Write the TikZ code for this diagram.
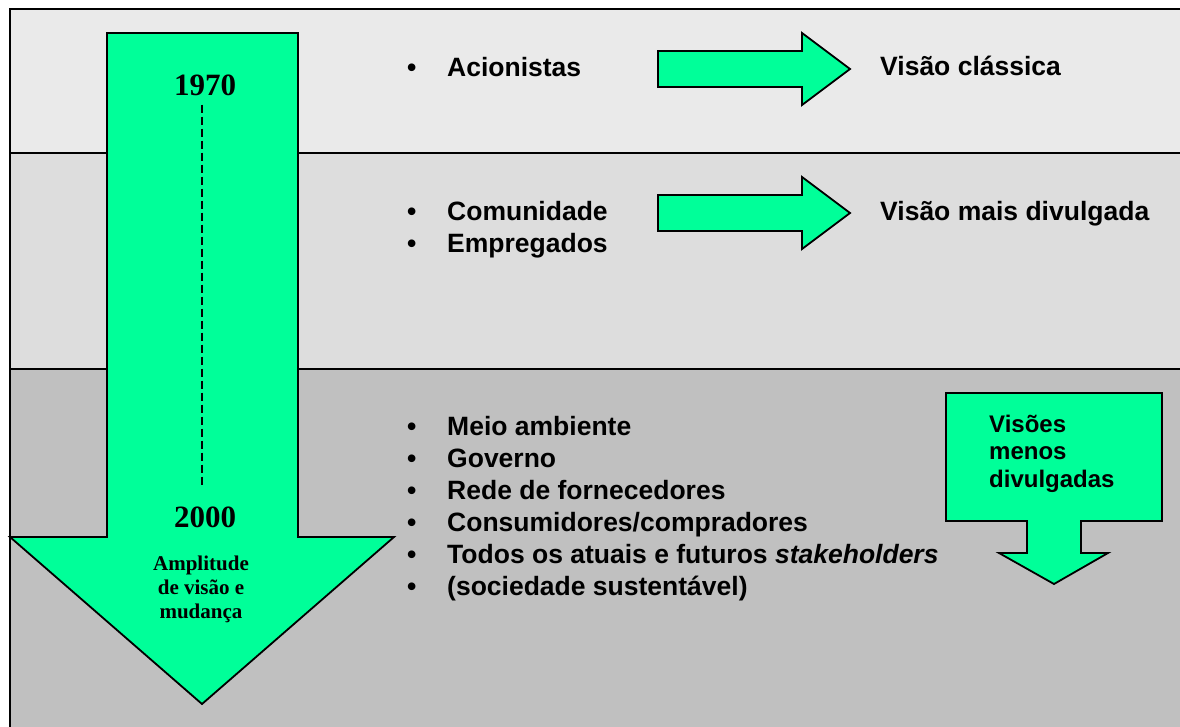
\documentclass[tikz,border=0pt]{standalone}
\usepackage{fontspec}
\setmainfont{Liberation Serif}
\setsansfont{Liberation Sans}

\definecolor{verde}{RGB}{0,255,153}
\definecolor{faixaA}{RGB}{234,234,234}
\definecolor{faixaB}{RGB}{221,221,221}
\definecolor{faixaC}{RGB}{192,192,192}
\newcommand{\marca}{\makebox[40pt][l]{•}}

\begin{document}
\begin{tikzpicture}[x=1pt,y=-1pt,
    seta/.style={fill=verde,draw=black,line width=1.8pt,line join=miter},
    lista/.style={anchor=base west,inner sep=0pt,align=left,font=\sffamily\bfseries\fontsize{26.5}{32}\selectfont},
    ano/.style={anchor=base,inner sep=0pt,font=\rmfamily\bfseries\fontsize{31}{31}\selectfont}]
        \useasboundingbox (0,0) rectangle (1180,726);
        \clip (0,0) rectangle (1180,726);
        % faixas
        \fill[faixaA] (10,9) rectangle (1190,153);
        \fill[faixaB] (10,153) rectangle (1190,369);
        \fill[faixaC] (10,369) rectangle (1190,740);
        \draw[line width=1.8pt] (1190,9) -- (10,9) -- (10,740);
        \draw[line width=1.8pt] (10,153) -- (1190,153) (10,369) -- (1190,369);
        % seta grande
        \draw[seta] (107,33) -- (298,33) -- (298,537) -- (394,537) -- (202,704) -- (10,537) -- (107,537) -- cycle;
        \node[ano] (a1970) at (205,95) {1970};
        \node[ano] (a2000) at (205,527) {2000};
        \draw[line width=1.8pt,dash pattern=on 8pt off 4pt] ([xshift=-3pt,yshift=-9pt]a1970.south) -- ([xshift=-3pt,yshift=19pt]a2000.north);
        \node[anchor=base,inner sep=0pt,align=center,font=\rmfamily\bfseries\fontsize{21}{24}\selectfont] (amplitude) at (201,618) {Amplitude\\de visão e\\mudança};
        % setas horizontais
        \draw[seta] (658,51) -- (802,51) -- (802,33) -- (850,69) -- (802,105) -- (802,87) -- (658,87) -- cycle;
        \draw[seta] (658,195) -- (802,195) -- (802,177) -- (850,213) -- (802,249) -- (802,231) -- (658,231) -- cycle;
        \node[lista] (acionistas) at (407,76) {\marca Acionistas};
        \node[lista] (classica) at (880,75) {Visão clássica};
        \node[lista] (comunidade) at (407,252) {\marca Comunidade\\\marca Empregados};
        \node[lista] (divulgada) at (880,220) {Visão mais divulgada};
        % lista de baixo
        \node[lista] (meio) at (407,595) {\marca Meio ambiente\\
            \marca Governo\\
            \marca Rede de fornecedores\\
            \marca Consumidores/compradores\\
            \marca Todos os atuais e futuros \textit{stakeholders}\\
            \marca (sociedade sustentável)};
        % seta pequena
        \draw[seta] (946,393) -- (1162,393) -- (1162,521) -- (1081,521) -- (1081,553) -- (1108,553) -- (1054,584) -- (999,553) -- (1027,553) -- (1027,521) -- (946,521) -- cycle;
        \node[anchor=base west,inner sep=0pt,align=left,font=\sffamily\bfseries\fontsize{24}{27.5}\selectfont] (menos) at (989,487) {Visões\\menos\\divulgadas};
    \end{tikzpicture}
\end{document}
